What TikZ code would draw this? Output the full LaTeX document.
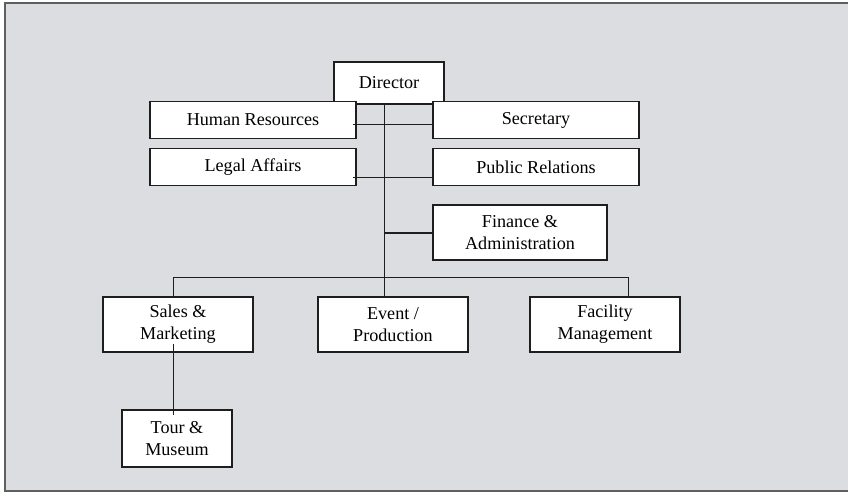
\documentclass[tikz,border=0pt]{standalone}
\usepackage{fontspec}
\setmainfont{Liberation Serif}
\usetikzlibrary{calc}
\definecolor{panelgray}{RGB}{220,221,224}
\definecolor{framegray}{RGB}{95,95,95}
\definecolor{inkgray}{RGB}{30,30,30}

\begin{document}
\begin{tikzpicture}[x=0.75pt,y=-0.75pt,
    unit/.style={draw=inkgray,line width=1.1pt,fill=white,align=center,
        inner sep=0pt,font=\fontsize{13.6}{16.5}\selectfont},
    link/.style={draw=inkgray,line width=0.75pt}]
\useasboundingbox (0,0) rectangle (848,492);
\fill[panelgray] (5,3) rectangle (870,491);
\draw[framegray,line width=1.5pt] (870,3) -- (5,3) -- (5,491) -- (870,491);

\node[unit,minimum width=82.5pt,minimum height=31.5pt] (director) at (389,83) {Director};

\node[unit,minimum width=154.5pt,minimum height=27.75pt] (hr) at (253,120) {Human Resources};
\node[unit,minimum width=154.5pt,minimum height=27.75pt] (sec) at (536,120) {Secretary};
\node[unit,minimum width=154.5pt,minimum height=27.75pt] (legal) at (253,167) {Legal Affairs};
\node[unit,minimum width=154.5pt,minimum height=27.75pt] (pr) at (536,167) {Public Relations};

\node[unit,minimum width=130.5pt,minimum height=41.25pt] (finance) at (520,232.5) {Finance \&\\Administration};

\node[unit,minimum width=112.5pt,minimum height=41.25pt] (sales) at (178,324.5) {Sales \&\\Marketing};
\node[unit,minimum width=112.5pt,minimum height=41.25pt] (event) at (393,324.5) {Event /\\Production};
\node[unit,minimum width=112.5pt,minimum height=41.25pt] (facility) at (605,324.5) {Facility\\Management};

\node[unit,minimum width=82.5pt,minimum height=42.75pt] (tour) at (177,438.5) {Tour \&\\Museum};
%%
\coordinate (spine) at (384,0);
\draw[link] (director.south -| spine) -- (event.north -| spine);

\draw[link] ($(hr.east)+(-4,4)$) -- ($(sec.west)+(0,4)$);
\draw[link] ($(legal.east)+(-4,10)$) -- ($(pr.west)+(0,10)$);
\draw[link,line width=1.5pt] (finance.west -| spine) -- (finance.west);
%%
\coordinate (busL) at ($(sales.north)+(-5,-19)$);
\coordinate (busR) at ($(facility.north)+(23,-19)$);
\draw[link] ($(sales.north)+(-5,0)$) -- (busL) -- (busR) -- ($(facility.north)+(23,0)$);

\coordinate (drop) at ($(sales.south)+(-5,-9)$);
\draw[link] (drop) -- ($(drop |- tour.north)+(0,6)$);
\end{tikzpicture}
\end{document}
